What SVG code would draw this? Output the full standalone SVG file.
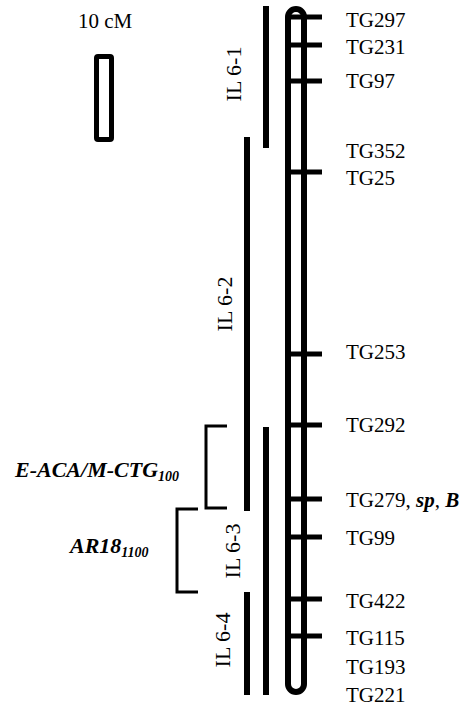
<svg xmlns="http://www.w3.org/2000/svg" width="469" height="708" viewBox="0 0 469 708">
  <style>
    .lbl { font-family: "Liberation Serif", "Times New Roman", serif; font-size: 21px; fill: #000; }
    .il { font-size: 22px; }
    .bi { font-weight: bold; font-style: italic; }
    .mk { font-size: 22px; }
    .sub { font-size: 14px; }
    .bar { stroke: #000; stroke-width: 6; fill: none; }
    .tick { stroke: #000; stroke-width: 5; fill: none; }
    .brk { stroke: #000; stroke-width: 3; fill: none; }
  </style>

  <rect width="469" height="708" fill="#fff"/>

  <!-- scale bar -->
  <g id="scale">
    <text class="lbl" x="78" y="28">10 cM</text>
    <rect x="96.5" y="56.5" width="15" height="83" rx="1.5" fill="none" stroke="#000" stroke-width="5"/>
  </g>

  <!-- chromosome 6 -->
  <g id="chromosome">
    <rect x="288" y="9" width="16" height="683" rx="8" class="bar"/>
  </g>

  <!-- marker ticks -->
  <g id="connectors">
    <path class="tick" d="M288,17H322 M288,45H322 M288,81H322 M288,172H322 M288,354H322 M288,425H322 M288,499H322 M288,537H322 M288,599H322 M288,636H322"/>
  </g>

  <!-- marker labels -->
  <g id="markers">
    <text class="lbl" x="346" y="27">TG297</text>
    <text class="lbl" x="346" y="54">TG231</text>
    <text class="lbl" x="346" y="88">TG97</text>
    <text class="lbl" x="346" y="158">TG352</text>
    <text class="lbl" x="346" y="185">TG25</text>
    <text class="lbl" x="346" y="359">TG253</text>
    <text class="lbl" x="346" y="432">TG292</text>
    <text class="lbl" x="346" y="507">TG279, <tspan class="bi">sp</tspan>, <tspan class="bi">B</tspan></text>
    <text class="lbl" x="346" y="545">TG99</text>
    <text class="lbl" x="346" y="608">TG422</text>
    <text class="lbl" x="346" y="645">TG115</text>
    <text class="lbl" x="346" y="674">TG193</text>
    <text class="lbl" x="346" y="702">TG221</text>
  </g>

  <!-- introgression lines -->
  <g id="il6-1">
    <line class="bar" x1="266" y1="6" x2="266" y2="148"/>
    <text class="lbl il" text-anchor="middle" transform="translate(241,74) rotate(-90)">IL 6-1</text>
  </g>
  <g id="il6-2">
    <line class="bar" x1="247" y1="137" x2="247" y2="511"/>
    <text class="lbl il" text-anchor="middle" transform="translate(232,304) rotate(-90)">IL 6-2</text>
  </g>
  <g id="il6-3">
    <line class="bar" x1="266" y1="427" x2="266" y2="695"/>
    <text class="lbl il" text-anchor="middle" transform="translate(240,551) rotate(-90)">IL 6-3</text>
  </g>
  <g id="il6-4">
    <line class="bar" x1="247" y1="592" x2="247" y2="695"/>
    <text class="lbl il" text-anchor="middle" transform="translate(230,640) rotate(-90)">IL 6-4</text>
  </g>

  <!-- mapped molecular markers -->
  <g id="eaca">
    <path class="brk" d="M227,426H206V508H227"/>
    <text class="lbl bi mk" x="15" y="477">E-ACA/M-CTG<tspan class="sub" dy="4">100</tspan></text>
  </g>
  <g id="ar18">
    <path class="brk" d="M198,509H177V592H198"/>
    <text class="lbl bi mk" x="70" y="553">AR18<tspan class="sub" dy="4">1100</tspan></text>
  </g>
</svg>
